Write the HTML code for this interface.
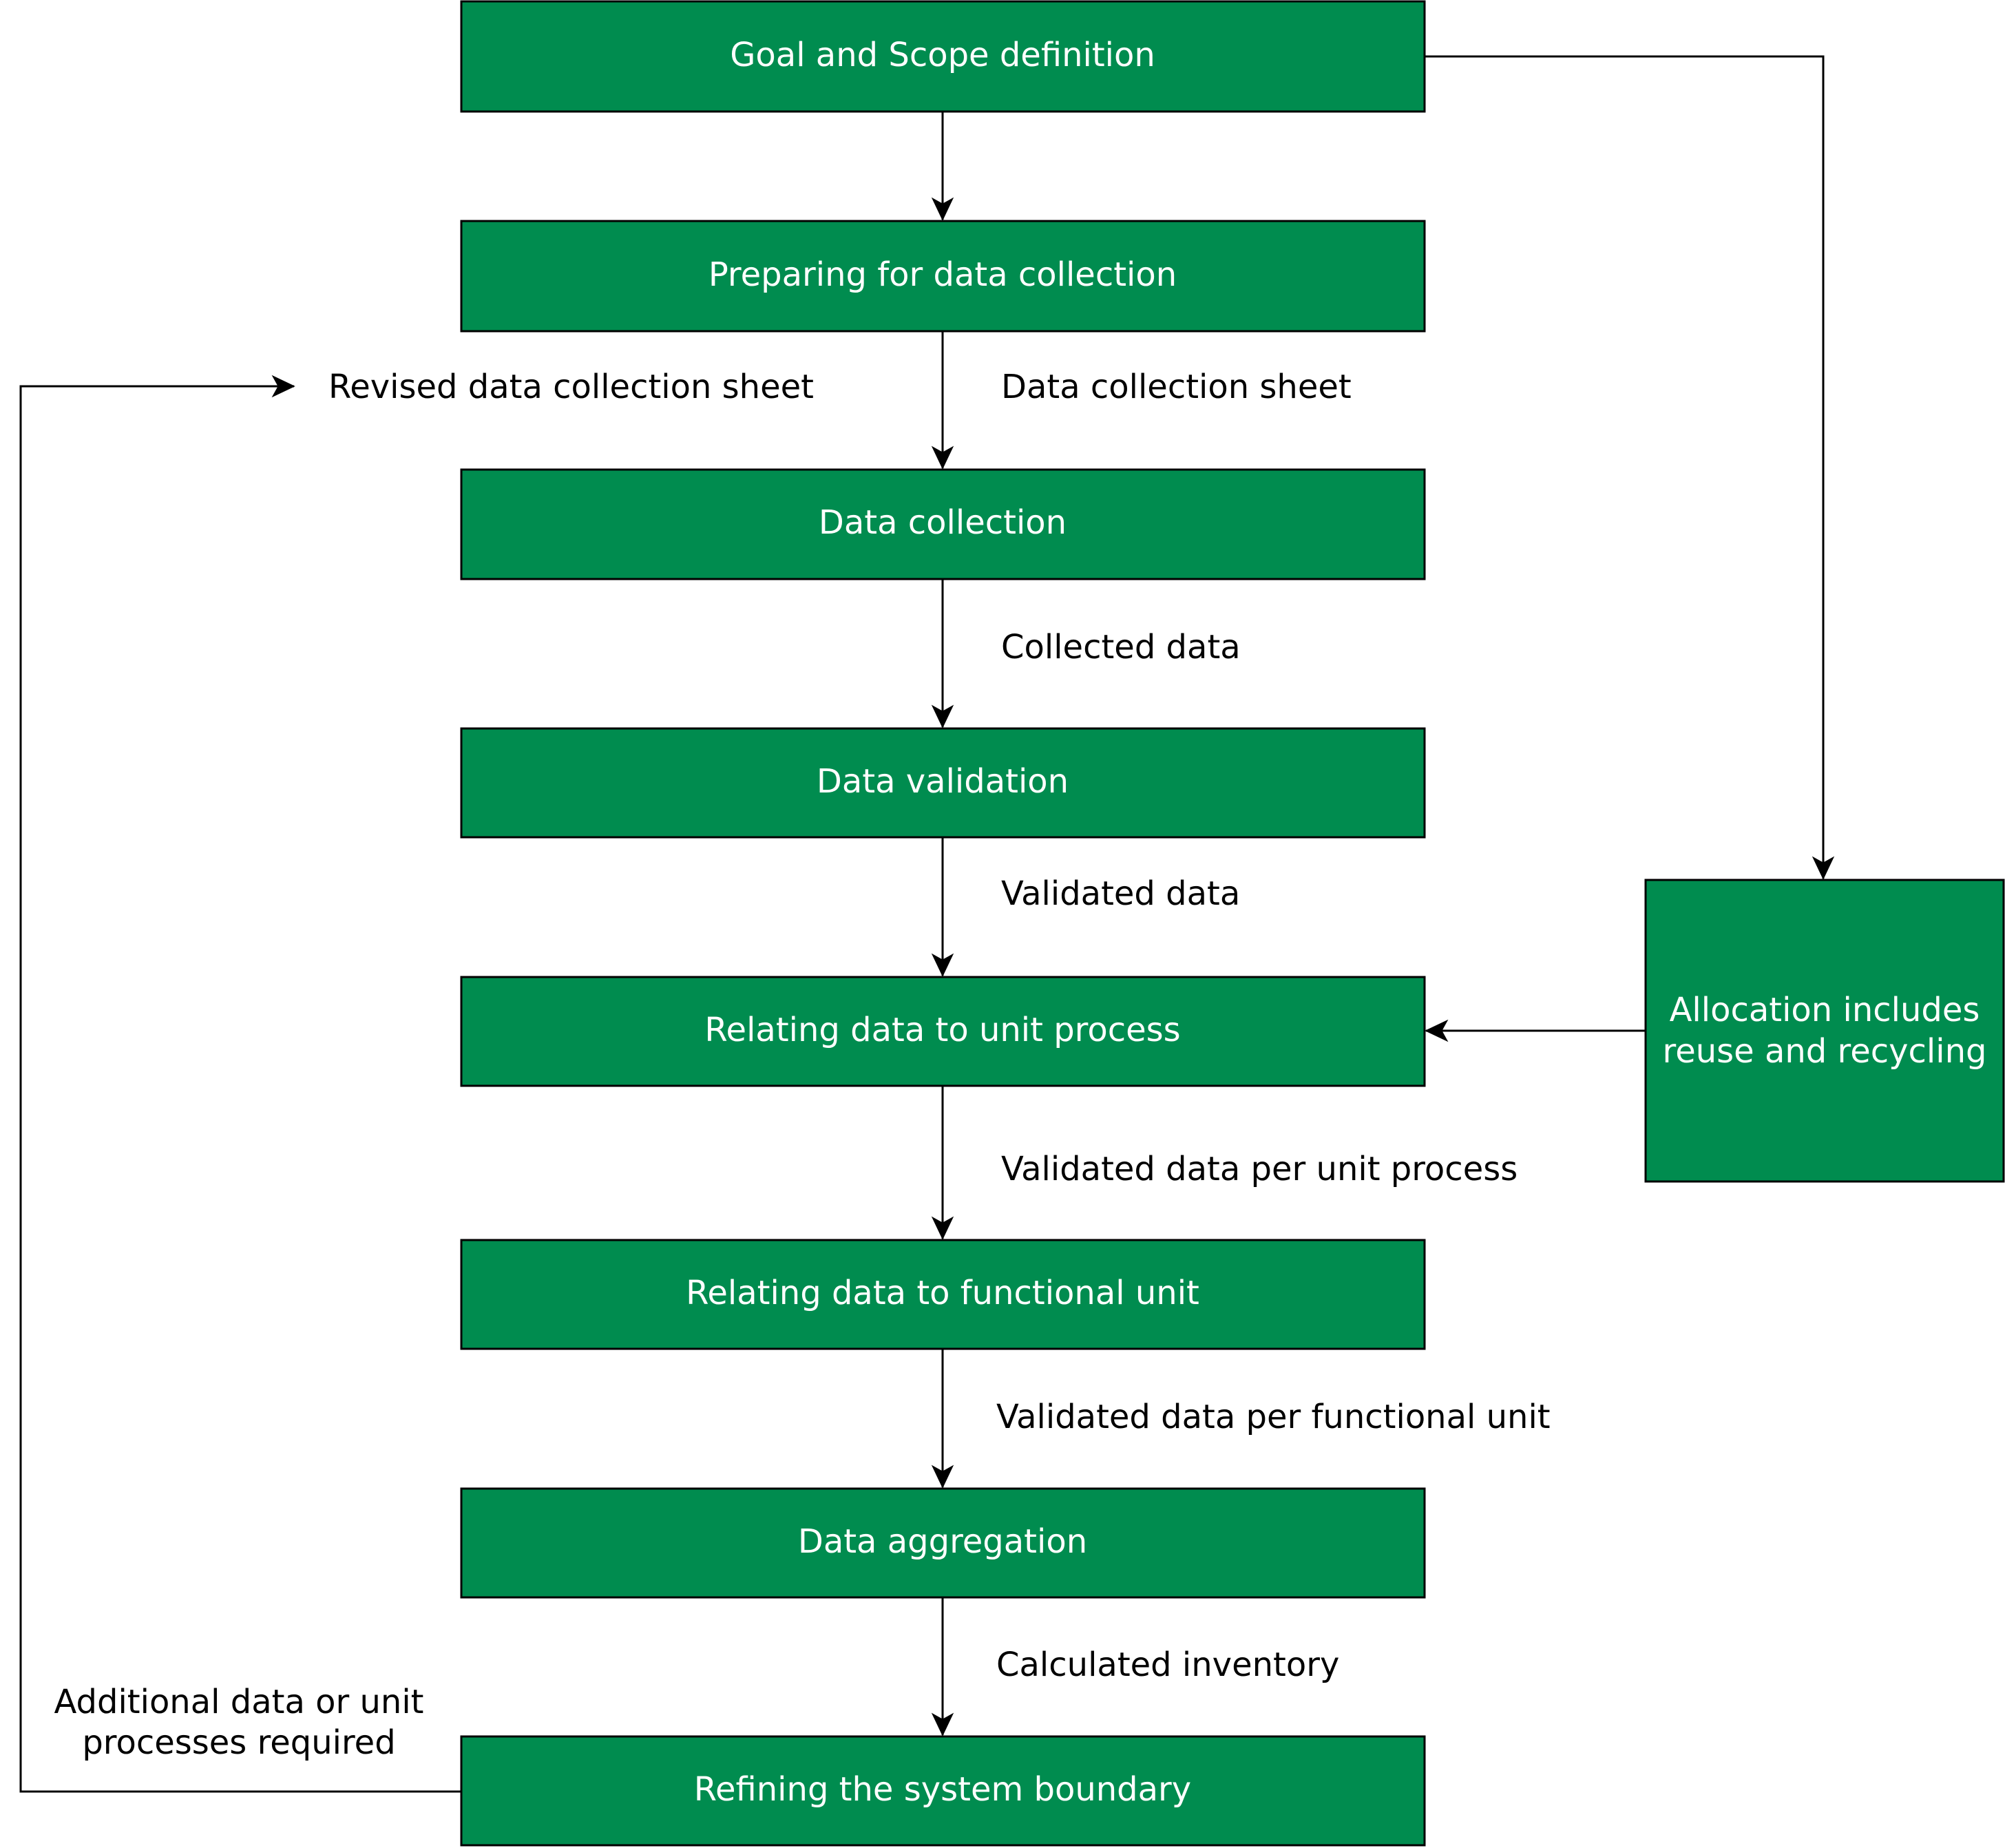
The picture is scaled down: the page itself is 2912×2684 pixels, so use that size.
<!DOCTYPE html>
<html><head><meta charset="utf-8"><style>
html,body{margin:0;padding:0;background:#fff;}
svg{display:block;}
text{font-family:"DejaVu Sans","Liberation Sans",sans-serif;font-size:48px;}
</style></head><body>
<svg width="2912" height="2684" viewBox="0 0 2912 2684" xmlns="http://www.w3.org/2000/svg">
<defs>
<marker id="b" viewBox="0 0 20 20" markerWidth="36" markerHeight="36" refX="18" refY="10" orient="auto" markerUnits="userSpaceOnUse">
<path d="M0,1 L19,10 L0,19 L5,10 Z" fill="#000"/>
</marker>
</defs>
<g fill="#008C4F" stroke="#000" stroke-width="3">
<rect x="670" y="2" width="1399" height="160"/>
<rect x="670" y="321" width="1399" height="160"/>
<rect x="670" y="682" width="1399" height="159"/>
<rect x="670" y="1058" width="1399" height="158"/>
<rect x="670" y="1419" width="1399" height="158"/>
<rect x="670" y="1801" width="1399" height="158"/>
<rect x="670" y="2162" width="1399" height="158"/>
<rect x="670" y="2522" width="1399" height="158"/>
<rect x="2390" y="1278" width="520" height="438"/>
</g>
<g stroke="#000" stroke-width="3" fill="none">
<line x1="1369" y1="162" x2="1369" y2="319" marker-end="url(#b)"/>
<line x1="1369" y1="481" x2="1369" y2="680" marker-end="url(#b)"/>
<line x1="1369" y1="841" x2="1369" y2="1056" marker-end="url(#b)"/>
<line x1="1369" y1="1216" x2="1369" y2="1417" marker-end="url(#b)"/>
<line x1="1369" y1="1577" x2="1369" y2="1799" marker-end="url(#b)"/>
<line x1="1369" y1="1959" x2="1369" y2="2160" marker-end="url(#b)"/>
<line x1="1369" y1="2320" x2="1369" y2="2520" marker-end="url(#b)"/>
<polyline points="2069,82 2648,82 2648,1276" marker-end="url(#b)"/>
<line x1="2390" y1="1497" x2="2071" y2="1497" marker-end="url(#b)"/>
<polyline points="670,2602 30,2602 30,561 427,561" marker-end="url(#b)"/>
</g>
<g fill="#fff" text-anchor="middle" dominant-baseline="central">
<text x="1369" y="80">Goal and Scope definition</text>
<text x="1369" y="399">Preparing for data collection</text>
<text x="1369" y="759">Data collection</text>
<text x="1369" y="1135">Data validation</text>
<text x="1369" y="1496">Relating data to unit process</text>
<text x="1369" y="1878">Relating data to functional unit</text>
<text x="1369" y="2239">Data aggregation</text>
<text x="1369" y="2599">Refining the system boundary</text>
<text x="2650" y="1467">Allocation includes</text>
<text x="2650" y="1527">reuse and recycling</text>
</g>
<g fill="#000" dominant-baseline="central">
<text x="477" y="562">Revised data collection sheet</text>
<text x="1454" y="562">Data collection sheet</text>
<text x="1454" y="940">Collected data</text>
<text x="1454" y="1298">Validated data</text>
<text x="1454" y="1698">Validated data per unit process</text>
<text x="1447" y="2058">Validated data per functional unit</text>
<text x="1447" y="2418">Calculated inventory</text>
<text x="347" y="2472" text-anchor="middle">Additional data or unit</text>
<text x="347" y="2531" text-anchor="middle">processes required</text>
</g>
</svg>
</body></html>
